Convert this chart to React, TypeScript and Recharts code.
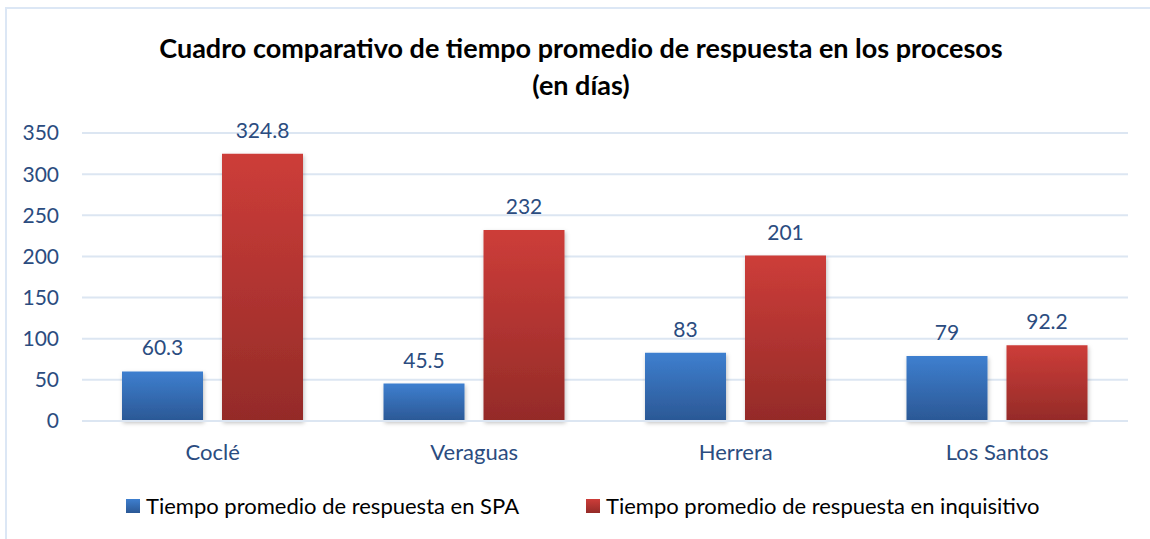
import React from "react";
import { BarChart, Bar, XAxis, YAxis, CartesianGrid, LabelList } from "recharts";

const categories = ["Coclé", "Veraguas", "Herrera", "Los Santos"];
const spaValues = [60.3, 45.5, 83, 79];
const inquisitivoValues = [324.8, 232, 201, 92.2];
const yTicks = [0, 50, 100, 150, 200, 250, 300, 350];
const seriesNames = [
  "Tiempo promedio de respuesta en SPA",
  "Tiempo promedio de respuesta en inquisitivo",
];
const titleLines = [
  "Cuadro comparativo de tiempo promedio de respuesta en los procesos",
  "(en días)",
];

const data = categories.map((c, i) => ({
  name: c,
  spa: spaValues[i],
  inq: inquisitivoValues[i],
}));

const FONT = "Lato, 'Open Sans', sans-serif";
const TEXT_BLUE = "#2B4C80";

export default function App() {
  return (
    <div
      style={{
        position: "absolute",
        left: 0,
        top: 0,
        width: 1150,
        height: 539,
        background: "#fff",
        overflow: "hidden",
        fontFamily: FONT,
      }}
    >
      <div
        style={{
          position: "absolute",
          left: 5,
          top: 7,
          width: 1160,
          height: 560,
          border: "2px solid #DCE7F5",
          boxSizing: "border-box",
        }}
      />
      <div
        style={{
          position: "absolute",
          left: 0,
          top: 29,
          width: 1162,
          textAlign: "center",
          fontWeight: 700,
          fontSize: 27,
          lineHeight: "37px",
          color: "#000",
        }}
      >
        <div>{titleLines[0]}</div>
        <div>{titleLines[1]}</div>
      </div>
      <div style={{ position: "absolute", left: 0, top: 0 }}>
        <BarChart
          width={1150}
          height={539}
          data={data}
          margin={{ top: 133, right: 22, bottom: 78, left: 22 }}
          barSize={81}
          barGap={19}
        >
          <defs>
            <linearGradient id="gBlue" x1="0" y1="0" x2="0" y2="1">
              <stop offset="0%" stopColor="#3E7FCF" />
              <stop offset="100%" stopColor="#2B5895" />
            </linearGradient>
            <linearGradient id="gRed" x1="0" y1="0" x2="0" y2="1">
              <stop offset="0%" stopColor="#CD3D39" />
              <stop offset="100%" stopColor="#942B28" />
            </linearGradient>
            <filter id="shadow" x="-20%" y="-10%" width="140%" height="130%">
              <feDropShadow dx="1" dy="2" stdDeviation="2" floodColor="#000" floodOpacity="0.25" />
            </filter>
          </defs>
          <CartesianGrid vertical={false} stroke="#DCE6F2" strokeWidth={2} />
          <XAxis
            dataKey="name"
            axisLine={{ stroke: "#DCE6F2", strokeWidth: 2 }}
            tickLine={false}
            height={40}
            tick={{ fill: TEXT_BLUE, fontSize: 22, fontFamily: FONT }}
            tickMargin={17}
          />
          <YAxis
            domain={[0, 350]}
            ticks={yTicks}
            axisLine={false}
            tickLine={false}
            width={60}
            tickSize={0}
            tickMargin={23}
            tick={{ fill: TEXT_BLUE, fontSize: 21, fontFamily: FONT }}
          />
          <Bar dataKey="spa" fill="url(#gBlue)" isAnimationActive={false} filter="url(#shadow)">
            <LabelList
              dataKey="spa"
              position="top"
              offset={16}
              fill={TEXT_BLUE}
              fontSize={21}
              fontFamily={FONT}
            />
          </Bar>
          <Bar dataKey="inq" fill="url(#gRed)" isAnimationActive={false} filter="url(#shadow)">
            <LabelList
              dataKey="inq"
              position="top"
              offset={16}
              fill={TEXT_BLUE}
              fontSize={21}
              fontFamily={FONT}
            />
          </Bar>
        </BarChart>
      </div>
      {[
        { x: 126, bg: "linear-gradient(#3E7FCF,#2B5895)", label: seriesNames[0] },
        { x: 586, bg: "linear-gradient(#CD3D39,#942B28)", label: seriesNames[1] },
      ].map((it) => (
        <div
          key={it.label}
          style={{
            position: "absolute",
            left: it.x,
            top: 492,
            display: "flex",
            alignItems: "center",
            fontSize: 22,
            color: "#000",
            whiteSpace: "nowrap",
          }}
        >
          <span
            style={{
              display: "inline-block",
              width: 14,
              height: 14,
              background: it.bg,
              marginRight: 6,
            }}
          />
          <span style={{ lineHeight: "28px" }}>{it.label}</span>
        </div>
      ))}
    </div>
  );
}
